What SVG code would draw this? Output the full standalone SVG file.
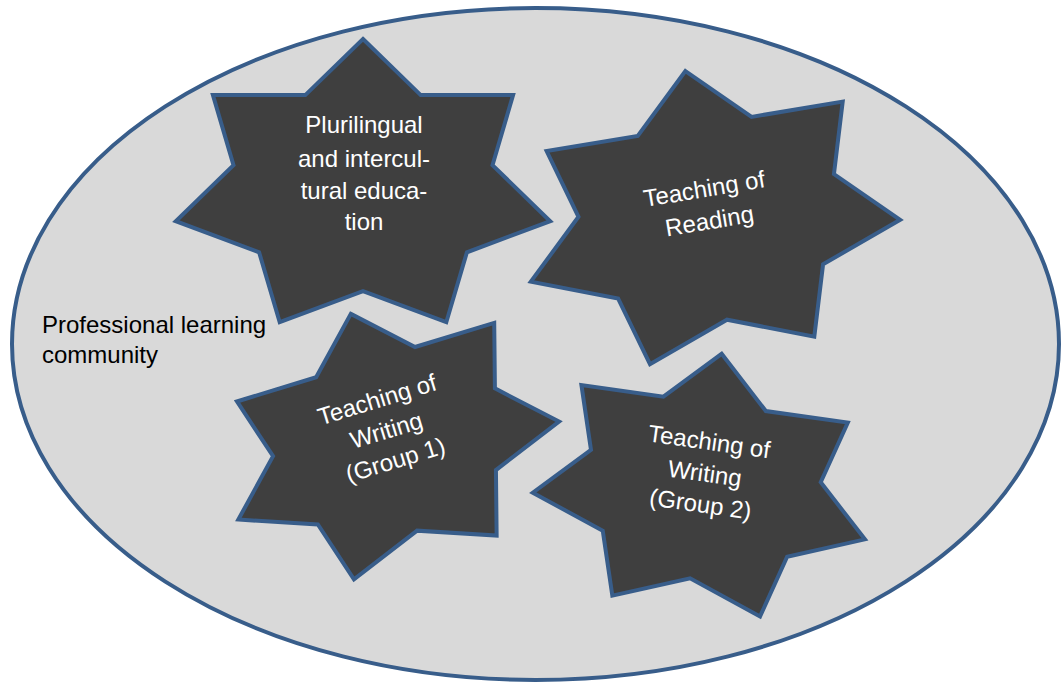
<svg xmlns="http://www.w3.org/2000/svg" width="1061" height="684" viewBox="0 0 1061 684">
  <style>
    .star { fill: #3F3F3F; stroke: #385D8A; stroke-width: 4; stroke-linejoin: miter; }
    .stxt { fill: #FFFFFF; font-family: "Liberation Sans", Arial, sans-serif; font-size: 24px; text-anchor: middle; }
    .lbl { fill: #000000; font-family: "Liberation Sans", Arial, sans-serif; font-size: 24px; }
  </style>
  <rect width="1061" height="684" fill="#FFFFFF"/>
  <g id="community">
    <ellipse cx="535.5" cy="344" rx="523.5" ry="336" fill="#D9D9D9" stroke="#385D8A" stroke-width="4"/>
    <text class="lbl" x="42" y="333">Professional learning</text>
    <text class="lbl" x="42" y="363">community</text>
  </g>
  <g id="connectors"></g>
  <g id="plurilingual" transform="translate(363,188)">
    <polygon class="star" points="0,-149 57.7,-92.9 150.1,-92.9 129.5,-22.9 187.2,33.2 103.9,64.3 83.3,134.2 0,103.1 -83.3,134.2 -103.9,64.3 -187.2,33.2 -129.5,-22.9 -150.1,-92.9 -57.7,-92.9"/>
    <text class="stxt" x="1" y="-54.7">Plurilingual</text>
    <text class="stxt" x="1" y="-21.5">and intercul-</text>
    <text class="stxt" x="1" y="10.5">tural educa-</text>
    <text class="stxt" x="1" y="42">tion</text>
  </g>
  <g id="reading" transform="translate(710,218) rotate(-9.5)">
    <polygon class="star" points="0,-149 57.7,-92.9 150.1,-92.9 129.5,-22.9 187.2,33.2 103.9,64.3 83.3,134.2 0,103.1 -83.3,134.2 -103.9,64.3 -187.2,33.2 -129.5,-22.9 -150.1,-92.9 -57.7,-92.9"/>
    <text class="stxt" x="-1" y="-21.5">Teaching of</text>
    <text class="stxt" x="-1" y="11">Reading</text>
  </g>
  <g id="writing1" transform="translate(390,442) rotate(-17)">
    <polygon class="star" points="0,-134 51.7,-83.5 134.5,-83.5 116,-20.6 167.7,29.8 93.1,57.8 74.6,120.7 0,92.7 -74.6,120.7 -93.1,57.8 -167.7,29.8 -116,-20.6 -134.5,-83.5 -51.7,-83.5"/>
    <text class="stxt" x="0" y="-36">Teaching of</text>
    <text class="stxt" x="0" y="-4">Writing</text>
    <text class="stxt" x="0" y="27">(Group 1)</text>
  </g>
  <g id="writing2" transform="translate(703,486.5) rotate(8)">
    <polygon class="star" points="0,-134 51.7,-83.5 134.5,-83.5 116,-20.6 167.7,29.8 93.1,57.8 74.6,120.7 0,92.7 -74.6,120.7 -93.1,57.8 -167.7,29.8 -116,-20.6 -134.5,-83.5 -51.7,-83.5"/>
    <text class="stxt" x="0" y="-37">Teaching of</text>
    <text class="stxt" x="0" y="-5">Writing</text>
    <text class="stxt" x="0" y="26">(Group 2)</text>
  </g>
</svg>
